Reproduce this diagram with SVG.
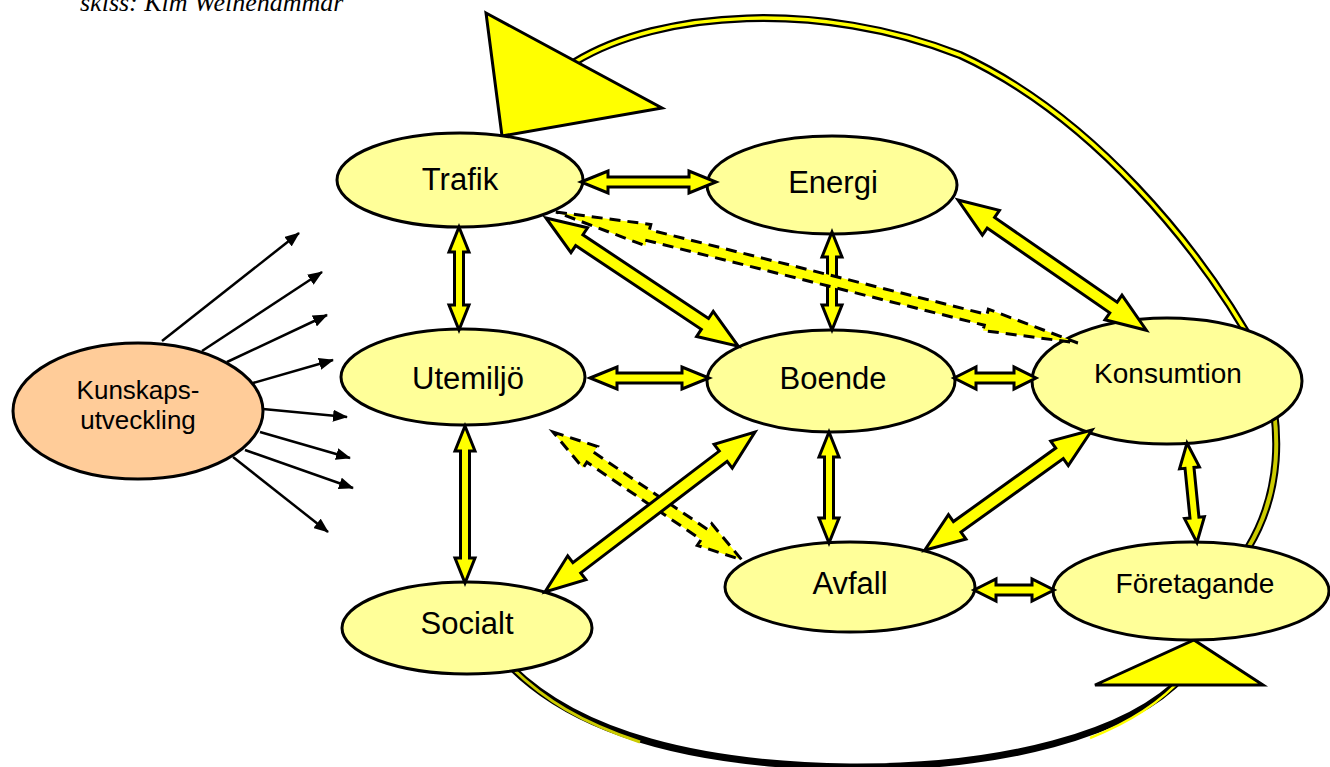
<svg xmlns="http://www.w3.org/2000/svg" width="1330" height="767" viewBox="0 0 1330 767">
<style>
.node{fill:#FFFF99;stroke:#000;stroke-width:3}
.kn{fill:#FFCC99;stroke:#000;stroke-width:3}
.lbl{font-family:"Liberation Sans",Arial,sans-serif;font-size:31px;fill:#000;text-anchor:middle}
.sm{font-size:28px}
.ks{font-size:26px}
.blk{fill:#FFFF00;stroke:#000;stroke-width:3;stroke-linejoin:miter}
.dash{fill:#FFFF00;stroke:#000;stroke-width:3;stroke-dasharray:11 7}
.thin{fill:none;stroke:#000;stroke-width:2.5;marker-end:url(#ah)}
.band{fill:none;stroke:#000;stroke-width:8;stroke-linecap:butt}
.tri{fill:#FFFF00;stroke:#000;stroke-width:3;stroke-linejoin:miter}
.credit{font-family:"Liberation Serif","Times New Roman",serif;font-style:italic;font-size:26px;fill:#000}
</style>
<defs>
<marker id="ah" markerUnits="userSpaceOnUse" markerWidth="16" markerHeight="12" refX="14" refY="6" orient="auto">
<path d="M0,0 L15,6 L0,12 Z" fill="#000"/>
</marker>
</defs>
<text class="credit" x="80" y="11">skiss: Kim Weinehammar</text>
<g id="loops">
<path class="band" d="M575,62 C660,10 820,0 960,55 C1090,115 1200,245 1262,360 C1285,430 1280,495 1248,548"/>
<path fill="none" stroke="#FFFF00" stroke-width="3.5" d="M575,62 C660,10 820,0 960,55 C1090,115 1200,245 1262,360"/>
<path fill="none" stroke="#CCCC00" stroke-width="4" d="M1262,360 C1285,430 1280,495 1248,548"/>
<path class="tri" d="M486,13 L662,108 L502,136 Z"/>
<path fill="none" stroke="#000" stroke-width="7" d="M512,668 C580,735 700,765 850,767 C1000,768 1130,735 1185,675"/>
<path fill="none" stroke="#CCCC00" stroke-width="3" d="M512,668 C545,700 580,722 640,742"/>
<path fill="none" stroke="#FFFF00" stroke-width="2.5" d="M1090,738 C1130,722 1160,703 1185,675"/>
<path class="tri" d="M1095,685 L1263,685 L1194,640 Z"/>
</g>
<g id="n-trafik"><ellipse class="node" cx="460" cy="180" rx="123" ry="47"/><text class="lbl" x="460" y="190">Trafik</text></g>
<g id="n-energi"><ellipse class="node" cx="832" cy="185" rx="125" ry="49"/><text class="lbl" x="833" y="193">Energi</text></g>
<g id="n-utemiljo"><ellipse class="node" cx="463" cy="377" rx="122" ry="48"/><text class="lbl" x="468" y="389">Utemiljö</text></g>
<g id="n-boende"><ellipse class="node" cx="831" cy="381" rx="124" ry="51"/><text class="lbl" x="833" y="389">Boende</text></g>
<g id="n-konsumtion"><ellipse class="node" cx="1167" cy="381" rx="135" ry="63"/><text class="lbl sm" x="1168" y="383">Konsumtion</text></g>
<g id="n-avfall"><ellipse class="node" cx="850" cy="587" rx="125" ry="45"/><text class="lbl" x="850" y="594">Avfall</text></g>
<g id="n-foretagande"><ellipse class="node" cx="1191" cy="591" rx="138" ry="49"/><text class="lbl sm" x="1195" y="593">Företagande</text></g>
<g id="n-socialt"><ellipse class="node" cx="467" cy="628" rx="125" ry="46"/><text class="lbl" x="467" y="634">Socialt</text></g>
<g id="n-kunskap"><ellipse class="kn" cx="138" cy="411" rx="125" ry="68"/><text class="lbl ks" x="138" y="399">Kunskaps-</text><text class="lbl ks" x="138" y="429">utveckling</text></g>
<g id="connectors">
<path class="blk" transform="translate(581,182)" d="M0,0 L27,-11 L27,-5 L108,-5 L108,-11 L135,0 L108,11 L108,5 L27,5 L27,11 Z"/>
<path class="blk" transform="translate(590,378)" d="M0,0 L27,-11 L27,-5 L92,-5 L92,-11 L119,0 L92,11 L92,5 L27,5 L27,11 Z"/>
<path class="blk" transform="translate(954,378)" d="M0,0 L22,-11 L22,-5 L60,-5 L60,-11 L82,0 L60,11 L60,5 L22,5 L22,11 Z"/>
<path class="blk" transform="translate(974,590)" d="M0,0 L22,-11 L22,-5 L58,-5 L58,-11 L80,0 L58,11 L58,5 L22,5 L22,11 Z"/>
<path class="blk" transform="translate(459,227) rotate(90)" d="M0,0 L25,-10 L25,-4.5 L78,-4.5 L78,-10 L103,0 L78,10 L78,4.5 L25,4.5 L25,10 Z"/>
<path class="blk" transform="translate(832,232) rotate(90)" d="M0,0 L25,-10 L25,-4.5 L73,-4.5 L73,-10 L98,0 L73,10 L73,4.5 L25,4.5 L25,10 Z"/>
<path class="blk" transform="translate(829,432) rotate(90)" d="M0,0 L25,-10 L25,-4.5 L86,-4.5 L86,-10 L111,0 L86,10 L86,4.5 L25,4.5 L25,10 Z"/>
<path class="blk" transform="translate(465,426) rotate(90)" d="M0,0 L25,-10 L25,-4.5 L132,-4.5 L132,-10 L157,0 L132,10 L132,4.5 L25,4.5 L25,10 Z"/>
<path class="blk" transform="translate(1187,443) rotate(84.29)" d="M0,0 L25,-10 L25,-4.5 L75,-4.5 L75,-10 L100,0 L75,10 L75,4.5 L25,4.5 L25,10 Z"/>
<path class="blk" transform="translate(546,218) rotate(33.69)" d="M0,0 L40,-15 L40,-6.5 L191,-6.5 L191,-15 L231,0 L191,15 L191,6.5 L40,6.5 L40,15 Z"/>
<path class="blk" transform="translate(958,200) rotate(34.66)" d="M0,0 L40,-15 L40,-6.5 L189,-6.5 L189,-15 L229,0 L189,15 L189,6.5 L40,6.5 L40,15 Z"/>
<path class="dash" transform="translate(556,212) rotate(14.09)" d="M0,0 L95,-11 L95,-5.5 L443,-5.5 L443,-11 L538,0 L443,11 L443,5.5 L95,5.5 L95,11 Z"/>
<path class="dash" transform="translate(553,432) rotate(34.11)" d="M0,0 L45,-13 L45,-6 L183,-6 L183,-13 L228,0 L183,13 L183,6 L45,6 L45,13 Z"/>
<path class="blk" transform="translate(755,432) rotate(142.7)" d="M0,0 L40,-15 L40,-6.5 L224,-6.5 L224,-15 L264,0 L224,15 L224,6.5 L40,6.5 L40,15 Z"/>
<path class="blk" transform="translate(1092,430) rotate(144.3)" d="M0,0 L40,-15 L40,-6.5 L166,-6.5 L166,-15 L206,0 L166,15 L166,6.5 L40,6.5 L40,15 Z"/>
<path class="thin" d="M162,341 L299,233"/>
<path class="thin" d="M202,351 L322,272"/>
<path class="thin" d="M227,362 L327,315"/>
<path class="thin" d="M253,383 L333,360"/>
<path class="thin" d="M263,409 L347,417"/>
<path class="thin" d="M260,432 L350,458"/>
<path class="thin" d="M245,450 L353,488"/>
<path class="thin" d="M233,457 L328,532"/>
</g>
</svg>
